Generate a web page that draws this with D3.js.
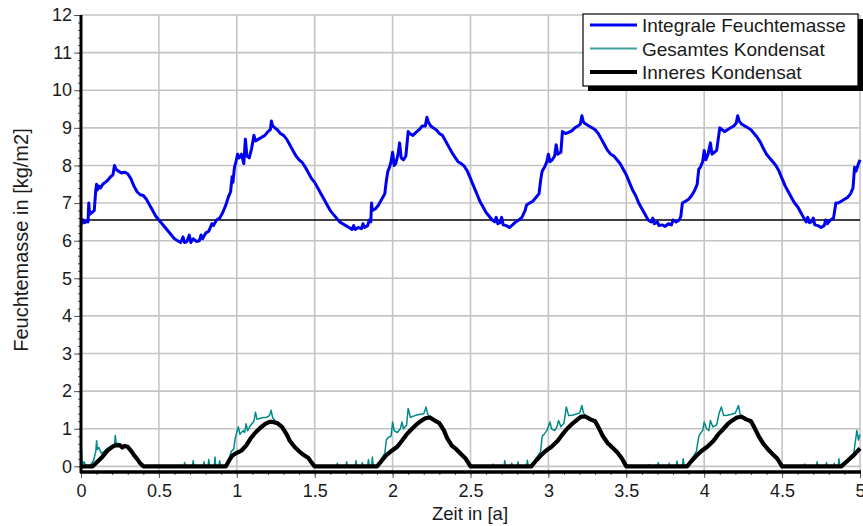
<!DOCTYPE html>
<html>
<head>
<meta charset="utf-8">
<script src="https://cdn.jsdelivr.net/npm/d3@7"></script>
<style>
  html, body { margin: 0; padding: 0; background: #fff; }
  svg text { font-family: "Liberation Sans", Arial, sans-serif; fill: #1a1a1a; }
</style>
</head>
<body>
<svg id="chart" width="863" height="526"></svg>
<script>
// ---------- data ----------
const seriesNames = ["Integrale Feuchtemasse", "Gesamtes Kondensat", "Inneres Kondensat"];
const xTicks = [0, 0.5, 1, 1.5, 2, 2.5, 3, 3.5, 4, 4.5, 5];
const yTicks = [0, 1, 2, 3, 4, 5, 6, 7, 8, 9, 10, 11, 12];
const referenceLevel = 6.55;
const xLabel = "Zeit in [a]";
const yLabel = "Feuchtemasse in [kg/m2]";

const integraleFeuchte = [
[0.000,6.60],[0.005,6.45],[0.015,6.55],[0.025,6.48],[0.035,6.52],[0.045,6.50],[0.050,7.00],[0.055,6.70],
[0.070,6.75],[0.085,6.80],[0.095,7.35],[0.100,7.50],[0.105,7.35],[0.115,7.45],[0.125,7.40],[0.140,7.50],
[0.155,7.55],[0.170,7.60],[0.190,7.70],[0.205,7.75],[0.215,8.00],[0.225,7.90],[0.240,7.85],[0.260,7.80],
[0.280,7.82],[0.300,7.78],[0.320,7.65],[0.340,7.45],[0.360,7.30],[0.380,7.22],[0.400,7.20],[0.420,7.10],
[0.440,6.95],[0.460,6.80],[0.480,6.65],[0.500,6.55],[0.520,6.45],[0.540,6.35],[0.560,6.25],[0.580,6.15],
[0.600,6.05],[0.620,6.00],[0.640,5.95],[0.655,6.10],[0.665,5.95],[0.680,5.98],[0.695,6.15],[0.705,5.95],
[0.720,6.05],[0.740,5.98],[0.760,6.00],[0.770,6.15],[0.780,6.05],[0.800,6.20],[0.820,6.25],[0.840,6.45],
[0.850,6.40],[0.870,6.55],[0.890,6.60],[0.910,6.75],[0.930,6.95],[0.945,7.15],[0.960,7.30],[0.970,7.70],
[0.975,7.55],[0.985,7.95],[0.995,8.10],[1.005,8.30],[1.015,8.20],[1.030,8.30],[1.045,8.05],[1.055,8.70],
[1.065,8.25],[1.080,8.20],[1.095,8.45],[1.110,8.80],[1.120,8.65],[1.140,8.70],[1.160,8.75],[1.180,8.80],
[1.200,8.90],[1.215,8.95],[1.222,9.18],[1.230,9.05],[1.245,9.00],[1.260,8.95],[1.280,8.85],[1.300,8.80],
[1.320,8.70],[1.340,8.55],[1.360,8.40],[1.380,8.25],[1.400,8.15],[1.420,8.08],[1.440,7.95],[1.460,7.80],
[1.480,7.65],[1.500,7.55],[1.520,7.40],[1.540,7.25],[1.560,7.10],[1.580,6.95],[1.600,6.80],[1.620,6.70],
[1.640,6.60],[1.660,6.50],[1.680,6.45],[1.700,6.40],[1.720,6.35],[1.740,6.30],[1.750,6.40],[1.760,6.30],
[1.780,6.35],[1.800,6.32],[1.810,6.45],[1.820,6.35],[1.840,6.40],[1.850,6.55],[1.860,6.50],[1.865,7.00],
[1.870,6.80],[1.890,6.85],[1.910,6.95],[1.930,7.10],[1.950,7.25],[1.960,7.60],[1.970,7.85],[1.980,7.95],
[1.990,8.10],[2.000,8.35],[2.010,8.00],[2.020,8.05],[2.035,8.30],[2.045,8.60],[2.055,8.20],[2.070,8.15],
[2.085,8.25],[2.100,8.90],[2.110,8.85],[2.130,8.80],[2.150,8.88],[2.170,8.95],[2.190,9.05],[2.210,9.05],
[2.220,9.28],[2.230,9.15],[2.245,9.05],[2.260,9.00],[2.280,8.95],[2.300,8.85],[2.320,8.80],[2.340,8.65],
[2.360,8.50],[2.380,8.35],[2.400,8.22],[2.420,8.10],[2.440,8.05],[2.460,7.98],[2.480,7.85],[2.500,7.65],
[2.520,7.45],[2.540,7.25],[2.560,7.05],[2.580,6.90],[2.600,6.75],[2.620,6.65],[2.640,6.55],[2.655,6.50],
[2.665,6.62],[2.675,6.45],[2.690,6.48],[2.700,6.62],[2.710,6.42],[2.730,6.40],[2.750,6.35],[2.770,6.42],
[2.790,6.50],[2.810,6.55],[2.830,6.62],[2.850,6.80],[2.860,6.95],[2.880,7.00],[2.900,7.05],[2.920,7.15],
[2.940,7.25],[2.950,7.60],[2.960,7.85],[2.975,7.95],[2.990,8.10],[3.000,8.30],[3.010,8.10],[3.025,8.15],
[3.040,8.25],[3.050,8.55],[3.060,8.30],[3.080,8.35],[3.090,8.90],[3.110,8.85],[3.130,8.88],[3.150,8.92],
[3.170,9.00],[3.190,9.05],[3.205,9.10],[3.215,9.32],[3.225,9.15],[3.240,9.10],[3.260,9.05],[3.280,9.00],
[3.300,8.95],[3.320,8.85],[3.340,8.70],[3.360,8.55],[3.380,8.40],[3.400,8.30],[3.420,8.25],[3.440,8.15],
[3.460,8.05],[3.480,7.90],[3.500,7.75],[3.520,7.55],[3.540,7.35],[3.560,7.20],[3.580,7.00],[3.600,6.85],
[3.620,6.70],[3.640,6.55],[3.660,6.50],[3.670,6.60],[3.680,6.45],[3.700,6.50],[3.710,6.40],[3.730,6.42],
[3.750,6.38],[3.770,6.45],[3.790,6.42],[3.800,6.55],[3.820,6.50],[3.840,6.55],[3.850,6.65],[3.860,7.00],
[3.880,7.05],[3.900,7.10],[3.920,7.20],[3.940,7.35],[3.955,7.50],[3.965,7.90],[3.975,7.95],[3.990,8.10],
[4.000,8.40],[4.010,8.15],[4.025,8.30],[4.040,8.60],[4.050,8.30],[4.065,8.35],[4.080,8.40],[4.100,9.00],
[4.115,8.95],[4.130,8.90],[4.150,8.95],[4.170,9.00],[4.190,9.05],[4.205,9.12],[4.215,9.32],[4.225,9.18],
[4.240,9.10],[4.260,9.05],[4.280,9.00],[4.300,8.95],[4.320,8.85],[4.340,8.75],[4.360,8.62],[4.380,8.45],
[4.400,8.30],[4.420,8.20],[4.440,8.10],[4.460,8.00],[4.480,7.85],[4.500,7.65],[4.520,7.45],[4.540,7.30],
[4.560,7.15],[4.580,7.00],[4.600,6.90],[4.620,6.75],[4.640,6.60],[4.655,6.50],[4.665,6.62],[4.675,6.48],
[4.690,6.50],[4.700,6.60],[4.710,6.42],[4.730,6.40],[4.750,6.35],[4.770,6.40],[4.780,6.55],[4.790,6.45],
[4.810,6.55],[4.830,6.60],[4.845,7.00],[4.860,7.00],[4.880,7.05],[4.900,7.10],[4.920,7.15],[4.940,7.25],
[4.955,7.40],[4.965,7.95],[4.975,7.85],[4.990,8.05],[5.000,8.15]
];

const gesamtesKondensat = [
[0.000,0.15],[0.004,0.42],[0.008,0.05],[0.020,0.12],[0.030,0.02],[0.060,0.03],[0.080,0.15],[0.095,0.40],
[0.100,0.68],[0.105,0.45],[0.115,0.50],[0.130,0.35],[0.150,0.40],[0.170,0.48],[0.200,0.55],[0.215,0.58],
[0.220,0.82],[0.225,0.62],[0.250,0.60],[0.265,0.52],[0.280,0.55],[0.300,0.53],[0.320,0.43],[0.340,0.30],
[0.360,0.20],[0.380,0.08],[0.400,0.00],[0.660,0.00],[0.665,0.10],[0.670,0.00],[0.715,0.00],[0.720,0.15],
[0.725,0.00],[0.785,0.00],[0.790,0.12],[0.795,0.00],[0.815,0.00],[0.820,0.18],[0.825,0.02],[0.855,0.00],
[0.860,0.25],[0.865,0.02],[0.885,0.00],[0.890,0.15],[0.895,0.02],[0.930,0.00],[0.950,0.20],[0.965,0.40],
[0.980,0.45],[0.990,0.75],[1.000,0.90],[1.010,1.05],[1.020,0.85],[1.040,0.95],[1.050,0.90],[1.060,1.13],
[1.070,0.95],[1.090,1.10],[1.110,1.20],[1.120,1.44],[1.130,1.25],[1.150,1.28],[1.170,1.30],[1.190,1.30],
[1.210,1.35],[1.220,1.49],[1.230,1.30],[1.250,1.18],[1.260,1.16],[1.290,1.06],[1.320,0.86],[1.340,0.69],
[1.370,0.53],[1.400,0.41],[1.430,0.31],[1.460,0.23],[1.480,0.11],[1.500,0.00],[1.640,0.00],[1.645,0.08],
[1.650,0.00],[1.700,0.00],[1.705,0.12],[1.710,0.00],[1.760,0.00],[1.765,0.15],[1.770,0.00],[1.800,0.00],
[1.805,0.10],[1.810,0.00],[1.840,0.00],[1.845,0.18],[1.850,0.02],[1.865,0.00],[1.870,0.25],[1.875,0.03],
[1.900,0.00],[1.920,0.15],[1.950,0.35],[1.960,0.70],[1.975,0.78],[1.990,0.80],[2.000,1.18],[2.010,0.95],
[2.030,0.90],[2.050,1.00],[2.060,1.18],[2.070,1.00],[2.090,1.10],[2.100,1.54],[2.115,1.30],[2.130,1.33],
[2.150,1.36],[2.170,1.38],[2.200,1.40],[2.215,1.58],[2.225,1.38],[2.240,1.31],[2.270,1.23],[2.300,1.16],
[2.330,0.96],[2.350,0.76],[2.380,0.56],[2.410,0.46],[2.440,0.33],[2.470,0.21],[2.500,0.00],[2.640,0.00],
[2.645,0.06],[2.650,0.00],[2.715,0.00],[2.720,0.15],[2.725,0.00],[2.760,0.00],[2.765,0.08],[2.770,0.00],
[2.800,0.00],[2.805,0.12],[2.810,0.00],[2.860,0.00],[2.865,0.16],[2.870,0.02],[2.890,0.00],[2.920,0.20],
[2.950,0.40],[2.960,0.80],[2.975,0.87],[2.990,0.95],[3.010,1.18],[3.020,1.00],[3.040,0.95],[3.055,1.05],
[3.065,1.22],[3.080,1.05],[3.100,1.15],[3.115,1.58],[3.130,1.35],[3.150,1.36],[3.170,1.38],[3.200,1.42],
[3.215,1.62],[3.225,1.42],[3.240,1.33],[3.270,1.26],[3.300,1.21],[3.320,1.06],[3.350,0.81],[3.380,0.63],
[3.410,0.51],[3.440,0.39],[3.470,0.23],[3.500,0.00],[3.640,0.00],[3.645,0.05],[3.650,0.00],[3.700,0.00],
[3.705,0.10],[3.710,0.00],[3.770,0.00],[3.775,0.08],[3.780,0.00],[3.820,0.00],[3.825,0.14],[3.830,0.00],
[3.860,0.00],[3.865,0.20],[3.870,0.02],[3.890,0.00],[3.920,0.20],[3.950,0.40],[3.965,0.80],[3.975,0.87],
[3.990,0.95],[4.000,1.18],[4.015,1.00],[4.030,0.95],[4.040,1.22],[4.055,1.05],[4.080,1.10],[4.095,1.40],
[4.110,1.58],[4.125,1.35],[4.150,1.36],[4.170,1.38],[4.200,1.42],[4.220,1.62],[4.230,1.40],[4.240,1.33],
[4.270,1.26],[4.300,1.21],[4.320,1.06],[4.350,0.81],[4.380,0.61],[4.410,0.46],[4.440,0.33],[4.470,0.21],
[4.500,0.00],[4.640,0.00],[4.645,0.06],[4.650,0.00],[4.720,0.00],[4.725,0.12],[4.730,0.00],[4.780,0.00],
[4.785,0.10],[4.790,0.00],[4.830,0.00],[4.835,0.08],[4.840,0.00],[4.860,0.00],[4.865,0.20],[4.870,0.02],
[4.885,0.00],[4.920,0.15],[4.960,0.35],[4.980,0.96],[4.990,0.70],[5.000,0.85]
];

const inneresKondensat = [
[0.000,0.00],[0.075,0.00],[0.100,0.10],[0.130,0.22],[0.150,0.32],[0.170,0.42],[0.200,0.52],[0.220,0.56],
[0.250,0.56],[0.265,0.50],[0.280,0.54],[0.300,0.52],[0.320,0.42],[0.340,0.30],[0.360,0.20],[0.380,0.08],
[0.400,0.00],[0.930,0.00],[0.950,0.15],[0.970,0.28],[1.000,0.36],[1.030,0.42],[1.060,0.55],[1.090,0.75],
[1.120,0.90],[1.150,1.02],[1.180,1.12],[1.210,1.18],[1.230,1.18],[1.260,1.15],[1.290,1.05],[1.320,0.85],
[1.340,0.68],[1.370,0.52],[1.400,0.40],[1.430,0.30],[1.460,0.22],[1.480,0.10],[1.500,0.00],[1.900,0.00],
[1.930,0.15],[1.960,0.30],[1.990,0.40],[2.030,0.52],[2.060,0.68],[2.090,0.85],[2.120,0.98],[2.150,1.10],
[2.180,1.20],[2.210,1.28],[2.240,1.30],[2.270,1.22],[2.300,1.15],[2.330,0.95],[2.350,0.75],[2.380,0.55],
[2.410,0.45],[2.440,0.32],[2.470,0.20],[2.500,0.00],[2.890,0.00],[2.920,0.15],[2.950,0.28],[2.980,0.40],
[3.020,0.52],[3.060,0.68],[3.090,0.85],[3.120,1.00],[3.150,1.12],[3.180,1.22],[3.210,1.32],[3.240,1.32],
[3.270,1.25],[3.300,1.20],[3.320,1.05],[3.350,0.80],[3.380,0.62],[3.410,0.50],[3.440,0.38],[3.470,0.22],
[3.500,0.00],[3.890,0.00],[3.920,0.15],[3.950,0.28],[3.980,0.40],[4.020,0.52],[4.060,0.68],[4.090,0.85],
[4.120,0.98],[4.150,1.12],[4.180,1.22],[4.210,1.30],[4.240,1.32],[4.270,1.25],[4.300,1.20],[4.320,1.05],
[4.350,0.80],[4.380,0.60],[4.410,0.45],[4.440,0.32],[4.470,0.20],[4.500,0.00],[4.880,0.00],[4.920,0.15],
[4.960,0.30],[5.000,0.48]
];

// ---------- layout ----------
(function () {
const svg = d3.select("#chart");
const pL = 81, pR = 860, pT = 15, pB = 472;
const x = d3.scaleLinear().domain([0, 5]).range([pL, pR]);
const y = d3.scaleLinear().domain([-0.15, 12]).range([pB, pT]);

const grid = svg.append("g");
grid.selectAll("line.v").data(xTicks.slice(1)).enter().append("line")
  .attr("x1", d => x(d)).attr("x2", d => x(d)).attr("y1", pT).attr("y2", pB)
  .attr("stroke", "#c4c4c4").attr("stroke-width", 1.6);
grid.selectAll("line.h").data(yTicks).enter().append("line")
  .attr("x1", pL).attr("x2", pR).attr("y1", d => y(d)).attr("y2", d => y(d))
  .attr("stroke", "#c4c4c4").attr("stroke-width", 1.6);

// reference line
svg.append("line")
  .attr("x1", pL).attr("x2", pR).attr("y1", y(referenceLevel)).attr("y2", y(referenceLevel))
  .attr("stroke", "#000").attr("stroke-width", 1.3);

svg.append("clipPath").attr("id", "clip").append("rect")
  .attr("x", pL).attr("y", pT - 5).attr("width", pR - pL + 2).attr("height", pB - pT + 5);

const line = d3.line().x(d => x(d[0])).y(d => y(d[1]));
const plot = svg.append("g").attr("clip-path", "url(#clip)");
plot.append("path").datum(gesamtesKondensat).attr("d", line)
  .attr("fill", "none").attr("stroke", "#008a8a").attr("stroke-width", 1.5).attr("stroke-linejoin", "round");
plot.append("path").datum(inneresKondensat).attr("d", line)
  .attr("fill", "none").attr("stroke", "#000").attr("stroke-width", 4.2).attr("stroke-linejoin", "round");
plot.append("path").datum(integraleFeuchte).attr("d", line)
  .attr("fill", "none").attr("stroke", "#0000f0").attr("stroke-width", 3).attr("stroke-linejoin", "round");

// axes
const xAxis = d3.axisBottom(x).tickValues(xTicks).tickSize(6).tickPadding(6).tickFormat(d3.format("~g"));
const xMinor = d3.axisBottom(x).tickValues(d3.range(0, 5.001, 0.1)).tickSize(3).tickFormat("");
const yAxis = d3.axisLeft(y).tickValues(yTicks).tickSize(7).tickPadding(2).tickFormat(d3.format("d"));
const yMinor = d3.axisLeft(y).tickValues(d3.range(0, 12.001, 0.2)).tickSize(3).tickFormat("");

function styleAxis(g) {
  g.select(".domain").remove();
  g.selectAll(".tick line").attr("stroke", "#555").attr("stroke-width", 1);
  g.selectAll("text").attr("font-size", 18).attr("fill", "#1a1a1a")
    .attr("font-family", "'Liberation Sans', Arial, sans-serif");
}
svg.append("g").attr("transform", `translate(0,${pB})`).call(xMinor).call(styleAxis);
svg.append("g").attr("transform", `translate(0,${pB})`).call(xAxis).call(styleAxis);
svg.append("g").attr("transform", `translate(${pL},0)`).call(yMinor).call(styleAxis);
svg.append("g").attr("transform", `translate(${pL},0)`).call(yAxis).call(styleAxis);

// thick axis lines
svg.append("line").attr("x1", pL).attr("x2", pL).attr("y1", pT).attr("y2", pB + 1)
  .attr("stroke", "#000").attr("stroke-width", 3);
svg.append("line").attr("x1", pL - 1).attr("x2", pR + 1).attr("y1", pB).attr("y2", pB)
  .attr("stroke", "#000").attr("stroke-width", 3.5);

// axis titles
svg.append("text").attr("x", (pL + pR) / 2 - 0.5).attr("y", 520)
  .attr("text-anchor", "middle").attr("font-size", 18.5).text(xLabel);
svg.append("text").attr("transform", "translate(28,240) rotate(-90)")
  .attr("text-anchor", "middle").attr("font-size", 20).text(yLabel);

// legend
const lg = svg.append("g");
lg.append("rect").attr("x", 588).attr("y", 19).attr("width", 275).attr("height", 72).attr("fill", "#000");
lg.append("rect").attr("x", 583).attr("y", 14).attr("width", 275).attr("height", 72)
  .attr("fill", "#fff").attr("stroke", "#000").attr("stroke-width", 1.2);
const legendStyles = [
  {c: "#0000f0", w: 3}, {c: "#3fa0a0", w: 2}, {c: "#000", w: 4}
];
const ly = d3.scalePoint().domain(seriesNames).range([25, 72]);
seriesNames.forEach((n, i) => {
  lg.append("line").attr("x1", 590).attr("x2", 637).attr("y1", ly(n)).attr("y2", ly(n))
    .attr("stroke", legendStyles[i].c).attr("stroke-width", legendStyles[i].w);
  lg.append("text").attr("x", 642).attr("y", ly(n) + 7).attr("font-size", 19).text(n);
});
})();
</script>
</body>
</html>
